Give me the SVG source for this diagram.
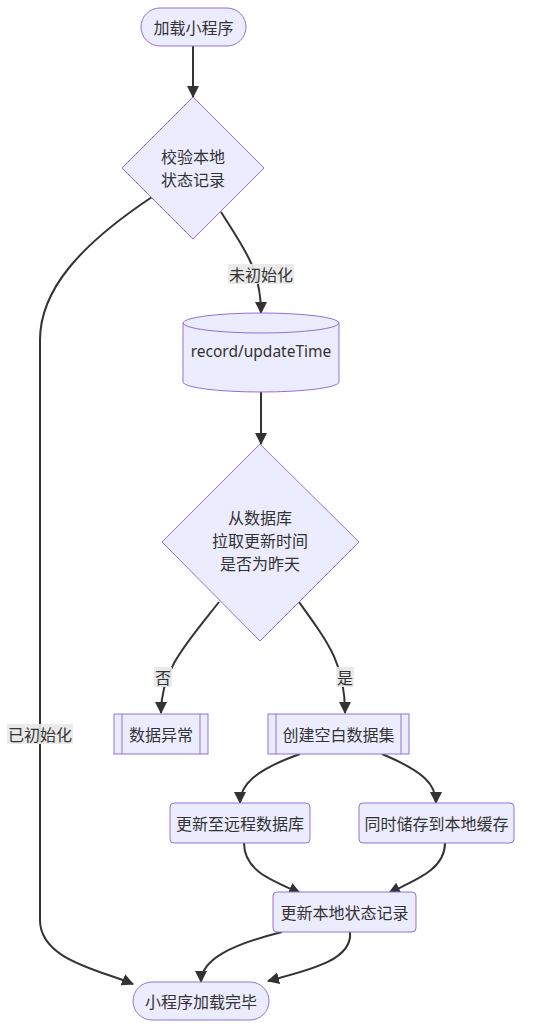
<svg xmlns="http://www.w3.org/2000/svg" width="533" height="1029" viewBox="0 0 533 1029">
<defs>
<style>
.n{fill:#ECECFF;stroke:#9370DB;stroke-width:1}
.t{font-family:"Noto Sans CJK SC","Liberation Sans",sans-serif;font-size:16px;fill:#333;text-anchor:middle;dominant-baseline:central}
.e{fill:none;stroke:#333;stroke-width:2}
.lb{fill:#e8e8e8;fill-opacity:0.9}
</style>
<marker id="ah" viewBox="0 0 12 12" refX="11" refY="6" markerWidth="12" markerHeight="12" markerUnits="userSpaceOnUse" orient="auto">
<path d="M0,0 L12,6 L0,12 z" fill="#333"/>
</marker>
</defs>
<rect width="533" height="1029" fill="#fff"/>
<g id="connectors">
<path class="e" marker-end="url(#ah)" d="M193,46 L193,97"/>
<path class="e" marker-end="url(#ah)" d="M221,212 C245,250 261,270 261,313"/>
<path class="e" marker-end="url(#ah)" d="M261,392 L261,444"/>
<path class="e" marker-end="url(#ah)" d="M219,602 C185,645 161,670 161,713"/>
<path class="e" marker-end="url(#ah)" d="M299,602 C330,645 345,665 345,713"/>
<path class="e" marker-end="url(#ah)" d="M300,754 C255,770 240,785 240,803"/>
<path class="e" marker-end="url(#ah)" d="M382,754 C425,772 436,785 436,803"/>
<path class="e" marker-end="url(#ah)" d="M244,843 C244,870 270,880 300,893"/>
<path class="e" marker-end="url(#ah)" d="M445,843 C445,870 415,880 389,893"/>
<path class="e" marker-end="url(#ah)" d="M282,932 C230,945 201,960 201,982"/>
<path class="e" marker-end="url(#ah)" d="M350,932 C353,960 310,970 268,981"/>
<path class="e" marker-end="url(#ah)" d="M152,197 C80,245 40,290 40,340 L40,920 C40,960 100,970 133,984"/>
<rect class="lb" x="228" y="264" width="66" height="20"/>
<text class="t" x="261" y="274">未初始化</text>
<rect class="lb" x="154" y="667" width="18" height="20"/>
<text class="t" x="163" y="677">否</text>
<rect class="lb" x="336" y="667" width="18" height="20"/>
<text class="t" x="345" y="677">是</text>
<rect class="lb" x="7" y="724" width="66" height="20"/>
<text class="t" x="40" y="734">已初始化</text>
</g>
<g id="start">
<rect class="n" x="141" y="8" width="105" height="38" rx="19"/>
<text class="t" x="193.5" y="27">加载小程序</text>
</g>
<g id="check">
<polygon class="n" points="193,97 264,168 193,239 122,168"/>
<text class="t" x="193" y="156">校验本地</text>
<text class="t" x="193" y="179">状态记录</text>
</g>
<g id="db">
<path class="n" d="M183,323 A78,10 0 0 1 339,323 L339,382 A78,10 0 0 1 183,382 Z"/>
<path fill="none" stroke="#9370DB" d="M183,323 A78,10 0 0 0 339,323"/>
<text class="t" x="261" y="351" style="font-family:'Noto Sans','Liberation Sans',sans-serif;font-size:15.5px">record/updateTime</text>
</g>
<g id="check2">
<polygon class="n" points="260,444 359,542 260,641 162,542"/>
<text class="t" x="260" y="517">从数据库</text>
<text class="t" x="260" y="540">拉取更新时间</text>
<text class="t" x="260" y="563">是否为昨天</text>
</g>
<g id="err">
<rect class="n" x="114" y="714" width="94" height="40"/>
<line x1="122" y1="714" x2="122" y2="754" stroke="#9370DB"/>
<line x1="200" y1="714" x2="200" y2="754" stroke="#9370DB"/>
<text class="t" x="161" y="734">数据异常</text>
</g>
<g id="create">
<rect class="n" x="268" y="714" width="141" height="40"/>
<line x1="276" y1="714" x2="276" y2="754" stroke="#9370DB"/>
<line x1="401" y1="714" x2="401" y2="754" stroke="#9370DB"/>
<text class="t" x="338.5" y="734">创建空白数据集</text>
</g>
<g id="remote">
<rect class="n" x="170" y="803" width="140" height="40" rx="4"/>
<text class="t" x="240" y="823">更新至远程数据库</text>
</g>
<g id="cache">
<rect class="n" x="359" y="803" width="155" height="40" rx="4"/>
<text class="t" x="436.5" y="823">同时储存到本地缓存</text>
</g>
<g id="local">
<rect class="n" x="273" y="892" width="143" height="40" rx="4"/>
<text class="t" x="344.5" y="912">更新本地状态记录</text>
</g>
<g id="end">
<rect class="n" x="133" y="982" width="136" height="38" rx="19"/>
<text class="t" x="201" y="1001">小程序加载完毕</text>
</g>
</svg>
